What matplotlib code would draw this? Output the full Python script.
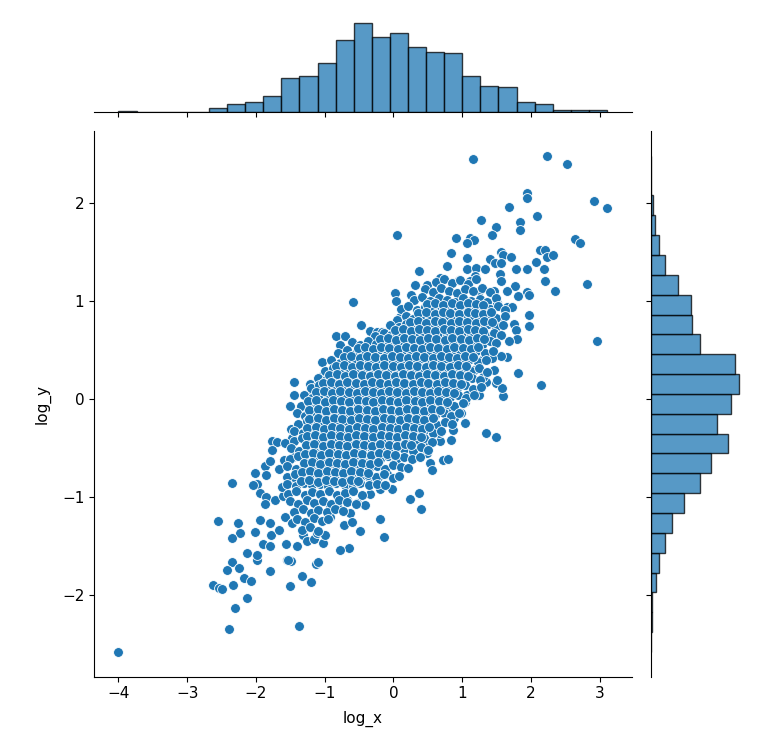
import matplotlib
matplotlib.use("Agg")
import matplotlib.pyplot as plt
import numpy as np

# ---------------- data ----------------
x_label = "log_x"
y_label = "log_y"
x_ticks = [-4, -3, -2, -1, 0, 1, 2, 3]
y_ticks = [-2, -1, 0, 1, 2]

# marginal histogram counts (x: 27 bins over data range, y: 25 bins bottom->top)
x_counts = [1, 0, 0, 0, 0, 5, 10, 13, 21, 44, 47, 64, 94, 116, 97, 103, 85,
            78, 77, 47, 34, 33, 13, 10, 3, 3, 3]
y_counts = [1, 2, 2, 7, 11, 19, 27, 43, 63, 77, 98, 85, 102, 112, 108, 63,
            53, 52, 35, 19, 11, 6, 3, 0, 1]

# sparse / outer points
outer_pts = [
    (-2.35, -1.66), (-2.42, -1.74), (-2.25, -1.72), (-2.18, -1.82), (-2.07, -1.85),
    (-2.63, -1.89), (-2.53, -1.92), (-2.49, -1.93), (-2.33, -1.89), (-2.13, -2.03),
    (-2.31, -2.13), (-2.39, -2.34), (-1.80, -1.75), (-1.55, -1.64), (-1.49, -1.65),
    (-1.33, -1.80), (-1.51, -1.90), (-1.20, -1.86), (-1.12, -1.68), (-1.37, -2.31),
    (-1.99, -1.64), (-4.00, -2.576),
    (-1.44, 0.17), (-1.44, 0.04), (-1.50, -0.07), (-1.49, -0.30), (-1.47, -0.40),
    (-1.76, -0.43), (-1.69, -0.44), (-1.57, -0.45), (-1.76, -0.52), (-1.87, -0.68),
    (-1.79, -0.63), (-1.59, -0.62), (-1.46, -0.59), (-2.02, -0.75), (-1.86, -0.77),
    (-1.66, -0.71), (-1.99, -0.86), (-2.04, -0.87), (-1.94, -0.96), (-1.86, -1.00),
    (-1.87, -1.07), (-1.72, -1.03), (-1.60, -0.99), (-1.62, -0.90), (-1.53, -0.82),
    (-1.45, -0.79), (-2.35, -0.85), (-2.55, -1.24), (-2.26, -1.26), (-2.23, -1.36),
    (-2.35, -1.42), (-2.01, -1.35), (-1.94, -1.23), (-1.79, -1.26), (-1.78, -1.38),
    (-1.67, -1.33), (-1.57, -1.20), (-1.48, -1.26), (-1.89, -1.48), (-1.99, -1.59),
    (-2.13, -1.57), (-1.80, -1.50), (-1.56, -1.48), (-1.53, -1.64),
    (-0.19, -1.22), (-0.13, -1.40), (-0.49, -1.34), (-0.65, -1.52), (-0.77, -1.54),
    (-1.10, -1.66), (-1.40, -1.50), (-1.31, -1.38), (-1.26, -1.45), (-1.16, -1.43),
    (-1.11, -1.36), (-1.02, -1.47), (-0.99, -1.38), (-0.92, -1.20), (-0.72, -1.28),
    (-0.63, -1.16), (-0.60, -1.25), (-0.92, -1.09), (-0.80, -1.11), (-0.68, -1.03),
    (-0.53, -1.06), (-0.41, -1.08), (-0.34, -0.97), (-0.19, -0.92), (-0.02, -0.92),
    (0.24, -1.02), (0.38, -0.96), (0.40, -1.12), (-0.09, -0.76), (-0.22, -0.79),
    (-0.35, -0.79), (0.49, -0.55), (0.53, -0.65), (0.56, -0.72), (0.72, -0.62),
    (0.79, -0.61), (0.51, -0.43), (0.68, -0.43), (0.84, -0.42), (0.87, -0.31),
    (0.66, -0.35), (1.05, -0.24), (0.97, -0.13), (1.22, 0.04),
    (1.81, 0.27), (2.15, 0.14), (1.60, 0.03), (1.50, 0.16), (1.32, 0.24),
    (1.35, 0.17), (1.25, 0.04), (1.07, 0.04), (0.98, -0.14), (0.88, -0.19),
    (1.35, -0.35), (1.49, -0.39), (1.58, 0.11), (0.83, -0.09), (1.05, -0.03),
    (1.16, 2.45), (2.24, 2.48), (2.53, 2.40), (1.94, 2.10), (1.94, 2.05),
    (1.68, 1.96), (2.92, 2.02), (3.11, 1.95), (2.09, 1.87), (1.27, 1.83),
    (1.84, 1.81), (1.50, 1.75), (1.84, 1.72), (1.44, 1.67), (0.91, 1.64),
    (1.11, 1.64), (1.18, 1.62), (1.07, 1.59), (2.65, 1.63), (2.72, 1.59),
    (0.84, 1.49), (1.56, 1.50), (1.60, 1.47), (1.71, 1.45), (2.14, 1.52),
    (2.21, 1.52), (2.24, 1.45), (2.33, 1.47), (1.40, 1.43), (1.48, 1.39),
    (1.56, 1.39), (1.07, 1.44), (0.78, 1.36), (1.07, 1.33), (1.21, 1.34),
    (1.34, 1.33), (1.79, 1.33), (1.95, 1.33), (2.07, 1.40), (2.19, 1.33),
    (2.20, 1.20), (2.35, 1.10), (2.82, 1.17), (2.96, 0.59), (1.55, 1.28),
    (1.19, 1.26), (0.95, 1.21), (1.56, 1.20), (1.46, 1.10), (1.77, 1.15),
    (1.65, 1.10), (1.94, 1.09), (1.98, 1.06), (1.81, 1.05), (1.11, 1.20),
    (1.24, 1.10), (1.23, 0.98), (1.51, 0.98), (1.65, 0.94), (1.73, 0.94),
    (1.97, 0.86), (1.98, 0.75), (1.75, 0.77), (1.79, 0.70), (1.80, 0.61),
    (1.69, 0.59), (1.39, 0.81), (1.56, 0.80), (1.34, 0.65), (1.44, 0.64),
    (1.65, 0.43), (1.57, 0.44), (1.44, 0.42), (1.29, 0.40), (1.46, 0.30),
    (1.17, 0.30), (1.31, 0.23), (1.51, 0.20), (1.00, 0.20),
    (0.05, 1.67), (0.37, 1.31), (0.68, 1.23), (0.32, 1.16), (0.49, 1.16),
    (0.03, 1.08), (0.04, 1.00), (-0.58, 0.99), (0.25, 1.06), (-0.47, 0.76),
    (-0.34, 0.69), (-0.24, 0.68), (-0.17, 0.68), (-0.83, 0.64), (-0.71, 0.64),
    (-0.77, 0.55), (-0.69, 0.48), (-1.04, 0.38), (-0.87, 0.32), (-0.70, 0.40),
    (-1.04, 0.24), (-1.21, 0.15), (-1.11, 0.13), (-1.02, 0.15), (-0.07, 0.54),
    (0.13, 0.71), (0.10, 0.84), (-1.18, 0.04), (-1.11, -0.04), (-0.92, 0.03),
    (-1.28, -0.26), (-1.26, -0.36),
]

# dense central band of points, listed row by row
core_pts = [
    (0.62, 1.19), (0.74, 1.22), (0.85, 1.18), (0.97, 1.21), (1.08, 1.17), (1.20, 1.22),
    (0.46, 1.12), (0.58, 1.09), (0.70, 1.13), (0.81, 1.10), (0.93, 1.08), (1.05, 1.12),
    (1.16, 1.10), (1.29, 1.13), (1.40, 1.09),
    (0.30, 1.01), (0.42, 1.04), (0.54, 1.00), (0.66, 1.03), (0.78, 1.01), (0.90, 0.99),
    (1.02, 1.03), (1.13, 1.00), (1.26, 1.02), (1.37, 0.99), (1.50, 1.03),
    (0.11, 0.92), (0.22, 0.95), (0.34, 0.91), (0.46, 0.94), (0.57, 0.92), (0.70, 0.95),
    (0.81, 0.91), (0.94, 0.93), (1.05, 0.95), (1.17, 0.91), (1.30, 0.94), (1.41, 0.92),
    (1.53, 0.95), (1.63, 0.91),
    (0.06, 0.81), (0.18, 0.85), (0.29, 0.82), (0.42, 0.86), (0.53, 0.83), (0.66, 0.84),
    (0.77, 0.81), (0.89, 0.86), (1.01, 0.83), (1.13, 0.85), (1.25, 0.82), (1.37, 0.86),
    (1.49, 0.83), (1.62, 0.85),
    (-0.05, 0.76), (0.08, 0.74), (0.19, 0.77), (0.31, 0.73), (0.44, 0.75), (0.55, 0.77),
    (0.67, 0.73), (0.80, 0.76), (0.91, 0.74), (1.03, 0.77), (1.15, 0.73), (1.27, 0.75),
    (1.38, 0.77), (1.50, 0.74), (1.60, 0.76),
    (-0.26, 0.64), (-0.14, 0.67), (-0.03, 0.65), (0.09, 0.68), (0.20, 0.64), (0.31, 0.66),
    (0.43, 0.68), (0.54, 0.64), (0.66, 0.67), (0.78, 0.65), (0.89, 0.68), (1.01, 0.64),
    (1.13, 0.66), (1.24, 0.68), (1.36, 0.64), (1.47, 0.67), (1.56, 0.65),
    (-0.60, 0.58), (-0.48, 0.55), (-0.37, 0.59), (-0.25, 0.56), (-0.13, 0.58), (-0.01, 0.55),
    (0.11, 0.59), (0.23, 0.56), (0.34, 0.58), (0.46, 0.55), (0.58, 0.59), (0.70, 0.57),
    (0.82, 0.55), (0.94, 0.59), (1.05, 0.56), (1.17, 0.58), (1.29, 0.55), (1.41, 0.59),
    (1.50, 0.57),
    (-0.80, 0.47), (-0.68, 0.50), (-0.56, 0.46), (-0.45, 0.49), (-0.33, 0.47), (-0.21, 0.50),
    (-0.09, 0.46), (0.03, 0.48), (0.15, 0.50), (0.26, 0.46), (0.38, 0.49), (0.50, 0.47),
    (0.62, 0.50), (0.74, 0.46), (0.85, 0.48), (0.97, 0.50), (1.09, 0.46), (1.21, 0.49),
    (1.33, 0.47), (1.45, 0.49),
    (-0.90, 0.40), (-0.78, 0.37), (-0.66, 0.41), (-0.55, 0.38), (-0.43, 0.40), (-0.31, 0.37),
    (-0.19, 0.41), (-0.07, 0.38), (0.05, 0.40), (0.17, 0.37), (0.28, 0.41), (0.40, 0.39),
    (0.52, 0.37), (0.64, 0.41), (0.76, 0.38), (0.87, 0.40), (0.99, 0.37), (1.11, 0.41),
    (1.23, 0.38), (1.35, 0.40),
    (-1.00, 0.29), (-0.88, 0.32), (-0.76, 0.28), (-0.65, 0.31), (-0.53, 0.29), (-0.41, 0.32),
    (-0.29, 0.28), (-0.17, 0.30), (-0.05, 0.32), (0.06, 0.28), (0.18, 0.31), (0.30, 0.29),
    (0.42, 0.32), (0.54, 0.28), (0.65, 0.30), (0.77, 0.32), (0.89, 0.28), (1.01, 0.31),
    (1.13, 0.29), (1.25, 0.32), (1.37, 0.28),
    (-1.10, 0.22), (-0.98, 0.19), (-0.86, 0.23), (-0.75, 0.20), (-0.63, 0.22), (-0.51, 0.19),
    (-0.39, 0.23), (-0.27, 0.20), (-0.16, 0.22), (-0.04, 0.19), (0.08, 0.23), (0.20, 0.21),
    (0.32, 0.19), (0.43, 0.23), (0.55, 0.20), (0.67, 0.22), (0.79, 0.19), (0.91, 0.23),
    (1.03, 0.20), (1.14, 0.22), (1.26, 0.19),
    (-1.20, 0.11), (-1.08, 0.14), (-0.96, 0.10), (-0.85, 0.13), (-0.73, 0.11), (-0.61, 0.14),
    (-0.49, 0.10), (-0.37, 0.12), (-0.25, 0.14), (-0.14, 0.10), (-0.02, 0.13), (0.10, 0.11),
    (0.22, 0.14), (0.34, 0.10), (0.45, 0.12), (0.57, 0.14), (0.69, 0.10), (0.81, 0.13),
    (0.93, 0.11), (1.05, 0.14), (1.16, 0.10), (1.28, 0.12),
    (-1.30, 0.04), (-1.18, 0.01), (-1.06, 0.05), (-0.95, 0.02), (-0.83, 0.04), (-0.71, 0.01),
    (-0.59, 0.05), (-0.47, 0.02), (-0.35, 0.04), (-0.24, 0.01), (-0.12, 0.05), (0.00, 0.03),
    (0.12, 0.01), (0.24, 0.05), (0.35, 0.02), (0.47, 0.04), (0.59, 0.01), (0.71, 0.05),
    (0.83, 0.02), (0.94, 0.04), (1.06, 0.01), (1.18, 0.04),
    (-1.35, -0.07), (-1.23, -0.04), (-1.11, -0.08), (-1.00, -0.05), (-0.88, -0.07),
    (-0.76, -0.04), (-0.64, -0.08), (-0.52, -0.06), (-0.40, -0.04), (-0.29, -0.08),
    (-0.17, -0.05), (-0.05, -0.07), (0.07, -0.04), (0.19, -0.08), (0.30, -0.05),
    (0.42, -0.07), (0.54, -0.04), (0.66, -0.08), (0.78, -0.05), (0.89, -0.07), (1.01, -0.04),
    (-1.40, -0.14), (-1.28, -0.17), (-1.16, -0.13), (-1.05, -0.16), (-0.93, -0.14),
    (-0.81, -0.17), (-0.69, -0.13), (-0.57, -0.15), (-0.45, -0.17), (-0.34, -0.13),
    (-0.22, -0.16), (-0.10, -0.14), (0.02, -0.17), (0.14, -0.13), (0.25, -0.15),
    (0.37, -0.17), (0.49, -0.13), (0.61, -0.16), (0.73, -0.14), (0.84, -0.17), (0.95, -0.14),
    (-1.38, -0.25), (-1.26, -0.22), (-1.14, -0.26), (-1.03, -0.23), (-0.91, -0.25),
    (-0.79, -0.22), (-0.67, -0.26), (-0.55, -0.24), (-0.43, -0.22), (-0.32, -0.26),
    (-0.20, -0.23), (-0.08, -0.25), (0.04, -0.22), (0.16, -0.26), (0.27, -0.23),
    (0.39, -0.25), (0.51, -0.22), (0.63, -0.26), (0.75, -0.23), (0.85, -0.25),
    (-1.44, -0.32), (-1.32, -0.35), (-1.20, -0.31), (-1.09, -0.34), (-0.97, -0.32),
    (-0.85, -0.35), (-0.73, -0.31), (-0.61, -0.33), (-0.49, -0.35), (-0.38, -0.31),
    (-0.26, -0.34), (-0.14, -0.32), (-0.02, -0.35), (0.10, -0.31), (0.21, -0.33),
    (0.33, -0.35), (0.45, -0.31), (0.57, -0.34), (0.69, -0.32),
    (-1.45, -0.43), (-1.33, -0.40), (-1.21, -0.44), (-1.10, -0.41), (-0.98, -0.43),
    (-0.86, -0.40), (-0.74, -0.44), (-0.62, -0.42), (-0.50, -0.40), (-0.39, -0.44),
    (-0.27, -0.41), (-0.15, -0.43), (-0.03, -0.40), (0.09, -0.44), (0.20, -0.41),
    (0.32, -0.43), (0.44, -0.40), (0.56, -0.44),
    (-1.49, -0.50), (-1.37, -0.53), (-1.25, -0.49), (-1.14, -0.52), (-1.02, -0.50),
    (-0.90, -0.53), (-0.78, -0.49), (-0.66, -0.51), (-0.54, -0.53), (-0.43, -0.49),
    (-0.31, -0.52), (-0.19, -0.50), (-0.07, -0.53), (0.05, -0.49), (0.16, -0.51),
    (0.28, -0.53), (0.40, -0.49), (0.50, -0.52),
    (-1.50, -0.61), (-1.38, -0.58), (-1.26, -0.62), (-1.15, -0.59), (-1.03, -0.61),
    (-0.91, -0.58), (-0.79, -0.62), (-0.67, -0.60), (-0.55, -0.58), (-0.44, -0.62),
    (-0.32, -0.59), (-0.20, -0.61), (-0.08, -0.58), (0.04, -0.62), (0.15, -0.59),
    (0.27, -0.61), (0.39, -0.59),
    (-1.54, -0.68), (-1.42, -0.71), (-1.30, -0.67), (-1.19, -0.70), (-1.07, -0.68),
    (-0.95, -0.71), (-0.83, -0.67), (-0.71, -0.69), (-0.59, -0.71), (-0.48, -0.67),
    (-0.36, -0.70), (-0.24, -0.68), (-0.12, -0.71), (0.00, -0.67), (0.11, -0.69), (0.21, -0.70),
    (-1.55, -0.79), (-1.43, -0.76), (-1.31, -0.80), (-1.20, -0.77), (-1.08, -0.79),
    (-0.96, -0.76), (-0.84, -0.80), (-0.72, -0.78), (-0.60, -0.76), (-0.49, -0.80),
    (-0.37, -0.77), (-0.25, -0.79), (-0.13, -0.76), (-0.01, -0.80), (0.08, -0.78),
    (-1.54, -0.86), (-1.42, -0.89), (-1.30, -0.85), (-1.19, -0.88), (-1.07, -0.86),
    (-0.95, -0.89), (-0.83, -0.85), (-0.71, -0.87), (-0.59, -0.89), (-0.48, -0.85),
    (-0.36, -0.88), (-0.24, -0.86), (-0.12, -0.88),
    (-1.53, -0.97), (-1.41, -0.94), (-1.29, -0.98), (-1.18, -0.95), (-1.06, -0.97),
    (-0.94, -0.94), (-0.82, -0.98), (-0.70, -0.96), (-0.58, -0.94), (-0.46, -0.98),
    (-1.50, -1.04), (-1.38, -1.07), (-1.26, -1.03), (-1.15, -1.06), (-1.03, -1.04),
    (-0.91, -1.07), (-0.79, -1.03), (-0.67, -1.05), (-0.55, -1.07),
    (-1.44, -1.15), (-1.32, -1.12), (-1.20, -1.16), (-1.09, -1.13), (-0.97, -1.15),
    (-0.85, -1.12), (-0.73, -1.14),
    (-1.40, -1.22), (-1.28, -1.25), (-1.16, -1.21), (-1.04, -1.24), (-0.95, -1.22),
    (-1.33, -1.33), (-1.21, -1.30), (-1.09, -1.34),
]

# extra points filling the densest middle of the band
center_pts = [
    (0.49, 0.97), (0.61, 0.98), (0.72, 0.96), (0.85, 0.98), (0.97, 0.96), (1.08, 0.98),
    (1.20, 0.97), (1.31, 0.96),
    (0.36, 0.88), (0.48, 0.89), (0.60, 0.87), (0.72, 0.89), (0.83, 0.88), (0.95, 0.87),
    (1.08, 0.89), (1.19, 0.88), (1.31, 0.87), (1.42, 0.89),
    (0.24, 0.79), (0.36, 0.80), (0.48, 0.78), (0.60, 0.80), (0.71, 0.79), (0.84, 0.78),
    (0.96, 0.80), (1.07, 0.79), (1.20, 0.78), (1.32, 0.80), (1.43, 0.79),
    (0.02, 0.70), (0.14, 0.71), (0.26, 0.69), (0.37, 0.71), (0.49, 0.70), (0.61, 0.69),
    (0.73, 0.71), (0.84, 0.70), (0.96, 0.69), (1.08, 0.71), (1.19, 0.70), (1.31, 0.69),
    (-0.19, 0.61), (-0.08, 0.62), (0.04, 0.60), (0.15, 0.62), (0.27, 0.61), (0.39, 0.60),
    (0.51, 0.62), (0.62, 0.61), (0.75, 0.60), (0.86, 0.62), (0.98, 0.61), (1.10, 0.60),
    (1.22, 0.62), (1.32, 0.61),
    (-0.52, 0.52), (-0.41, 0.53), (-0.29, 0.51), (-0.18, 0.53), (-0.06, 0.52), (0.07, 0.51),
    (0.18, 0.53), (0.30, 0.52), (0.42, 0.51), (0.54, 0.53), (0.65, 0.52), (0.78, 0.51),
    (0.89, 0.53), (1.01, 0.52), (1.13, 0.51), (1.23, 0.53),
    (-0.72, 0.43), (-0.61, 0.44), (-0.49, 0.42), (-0.38, 0.44), (-0.26, 0.43), (-0.14, 0.42),
    (-0.02, 0.44), (0.10, 0.43), (0.22, 0.42), (0.33, 0.44), (0.45, 0.43), (0.57, 0.42),
    (0.69, 0.44), (0.81, 0.43), (0.92, 0.42), (1.04, 0.44), (1.16, 0.43),
    (-0.84, 0.34), (-0.72, 0.35), (-0.60, 0.33), (-0.49, 0.35), (-0.37, 0.34), (-0.25, 0.33),
    (-0.13, 0.35), (-0.01, 0.34), (0.11, 0.33), (0.23, 0.35), (0.35, 0.34), (0.47, 0.33),
    (0.58, 0.35), (0.70, 0.34), (0.82, 0.33), (0.94, 0.35), (1.06, 0.34),
    (-0.94, 0.25), (-0.82, 0.26), (-0.70, 0.24), (-0.58, 0.26), (-0.46, 0.25), (-0.34, 0.24),
    (-0.22, 0.26), (-0.10, 0.25), (0.02, 0.24), (0.14, 0.26), (0.26, 0.25), (0.37, 0.24),
    (0.49, 0.26), (0.61, 0.25), (0.73, 0.24), (0.85, 0.26), (0.97, 0.25), (1.08, 0.24),
    (-1.03, 0.16), (-0.91, 0.17), (-0.79, 0.15), (-0.67, 0.17), (-0.55, 0.16), (-0.43, 0.15),
    (-0.31, 0.17), (-0.19, 0.16), (-0.08, 0.15), (0.04, 0.17), (0.16, 0.16), (0.28, 0.15),
    (0.40, 0.17), (0.51, 0.16), (0.63, 0.15), (0.75, 0.17), (0.87, 0.16), (0.99, 0.15),
    (-1.13, 0.07), (-1.01, 0.08), (-0.89, 0.06), (-0.77, 0.08), (-0.65, 0.07), (-0.53, 0.06),
    (-0.41, 0.08), (-0.29, 0.07), (-0.18, 0.06), (-0.06, 0.08), (0.06, 0.07), (0.18, 0.06),
    (0.30, 0.08), (0.41, 0.07), (0.53, 0.06), (0.65, 0.08), (0.77, 0.07), (0.89, 0.06),
    (-1.24, -0.02), (-1.12, -0.01), (-1.00, -0.03), (-0.88, -0.01), (-0.76, -0.02),
    (-0.64, -0.03), (-0.52, -0.01), (-0.40, -0.02), (-0.29, -0.03), (-0.17, -0.01),
    (-0.05, -0.02), (0.07, -0.03), (0.19, -0.01), (0.31, -0.02), (0.42, -0.03),
    (0.54, -0.01), (0.66, -0.02), (0.78, -0.03),
    (-1.22, -0.11), (-1.10, -0.10), (-0.98, -0.12), (-0.86, -0.10), (-0.75, -0.11),
    (-0.63, -0.12), (-0.51, -0.10), (-0.39, -0.11), (-0.27, -0.12), (-0.15, -0.10),
    (-0.03, -0.11), (0.08, -0.12), (0.20, -0.10), (0.32, -0.11), (0.44, -0.12),
    (0.56, -0.10), (0.68, -0.11),
    (-1.22, -0.20), (-1.10, -0.19), (-0.98, -0.21), (-0.86, -0.19), (-0.74, -0.20),
    (-0.62, -0.21), (-0.50, -0.19), (-0.38, -0.20), (-0.26, -0.21), (-0.14, -0.19),
    (-0.03, -0.20), (0.09, -0.21), (0.21, -0.19), (0.33, -0.20), (0.45, -0.21), (0.57, -0.19),
    (-1.25, -0.29), (-1.13, -0.28), (-1.01, -0.30), (-0.89, -0.28), (-0.77, -0.29),
    (-0.65, -0.30), (-0.53, -0.28), (-0.41, -0.29), (-0.29, -0.30), (-0.17, -0.28),
    (-0.05, -0.29), (0.07, -0.30), (0.18, -0.28), (0.30, -0.29), (0.42, -0.30), (0.52, -0.28),
    (-1.26, -0.38), (-1.14, -0.37), (-1.02, -0.39), (-0.90, -0.37), (-0.78, -0.38),
    (-0.66, -0.39), (-0.54, -0.37), (-0.42, -0.38), (-0.30, -0.39), (-0.18, -0.37),
    (-0.06, -0.38), (0.06, -0.39), (0.17, -0.37), (0.29, -0.38), (0.40, -0.39),
    (-1.27, -0.47), (-1.15, -0.46), (-1.03, -0.48), (-0.91, -0.46), (-0.79, -0.47),
    (-0.67, -0.48), (-0.55, -0.46), (-0.43, -0.47), (-0.31, -0.48), (-0.19, -0.46),
    (-0.07, -0.47), (0.05, -0.48), (0.17, -0.46), (0.26, -0.47),
    (-1.29, -0.56), (-1.17, -0.55), (-1.05, -0.57), (-0.93, -0.55), (-0.81, -0.56),
    (-0.69, -0.57), (-0.57, -0.55), (-0.45, -0.56), (-0.33, -0.57), (-0.21, -0.55),
    (-0.09, -0.56), (0.02, -0.57),
    (-1.30, -0.65), (-1.18, -0.64), (-1.06, -0.66), (-0.94, -0.64), (-0.82, -0.65),
    (-0.70, -0.66), (-0.58, -0.64), (-0.46, -0.65), (-0.34, -0.66), (-0.22, -0.64),
    (-1.33, -0.74), (-1.21, -0.73), (-1.09, -0.75), (-0.97, -0.73), (-0.85, -0.74),
    (-0.73, -0.75), (-0.61, -0.73), (-0.49, -0.74), (-0.37, -0.75),
    (-1.34, -0.83), (-1.22, -0.82), (-1.10, -0.84), (-0.98, -0.82), (-0.86, -0.83),
    (-0.74, -0.84), (-0.62, -0.82), (-0.52, -0.83),
]

# ---------------- figure ----------------
BLUE = "#1f77b4"
plt.rcParams["font.size"] = 11
plt.rcParams["font.family"] = ["DejaVu Sans"]

pts = np.array(outer_pts + core_pts + center_pts)
xs, ys = pts[:, 0], pts[:, 1]

W, H = 775, 749
fig = plt.figure(figsize=(W / 100, H / 100), dpi=100)


def box(l, t, r, b):
    return [l / W, 1 - b / H, (r - l) / W, (b - t) / H]


ax = fig.add_axes(box(94, 131, 631.5, 676.7))
axx = fig.add_axes(box(94, 18.2, 631.5, 112.2), sharex=ax)
axy = fig.add_axes(box(650.5, 131, 743, 676.7), sharey=ax)

ax.scatter(xs, ys, s=50, c=BLUE, edgecolors="white", linewidths=0.6, zorder=2)

x_edges = np.linspace(xs.min(), xs.max(), len(x_counts) + 1)
y_edges = np.linspace(ys.min(), ys.max(), len(y_counts) + 1)
axx.bar(x_edges[:-1], x_counts, width=np.diff(x_edges), align="edge",
        color=BLUE, alpha=0.75, edgecolor="black", linewidth=1.0)
axy.barh(y_edges[:-1], y_counts, height=np.diff(y_edges), align="edge",
         color=BLUE, alpha=0.75, edgecolor="black", linewidth=1.0)

ax.set_xticks(x_ticks)
ax.set_yticks(y_ticks)
ax.set_xlabel(x_label, labelpad=7)
ax.set_ylabel(y_label, labelpad=8)
for s in ("top", "right"):
    ax.spines[s].set_visible(False)

for s in ("top", "right", "left"):
    axx.spines[s].set_visible(False)
axx.tick_params(axis="x", labelbottom=False)
axx.set_yticks([])

for s in ("top", "right", "bottom"):
    axy.spines[s].set_visible(False)
axy.tick_params(axis="y", labelleft=False)
axy.set_xticks([])

fig.savefig("out.png", dpi=100)
